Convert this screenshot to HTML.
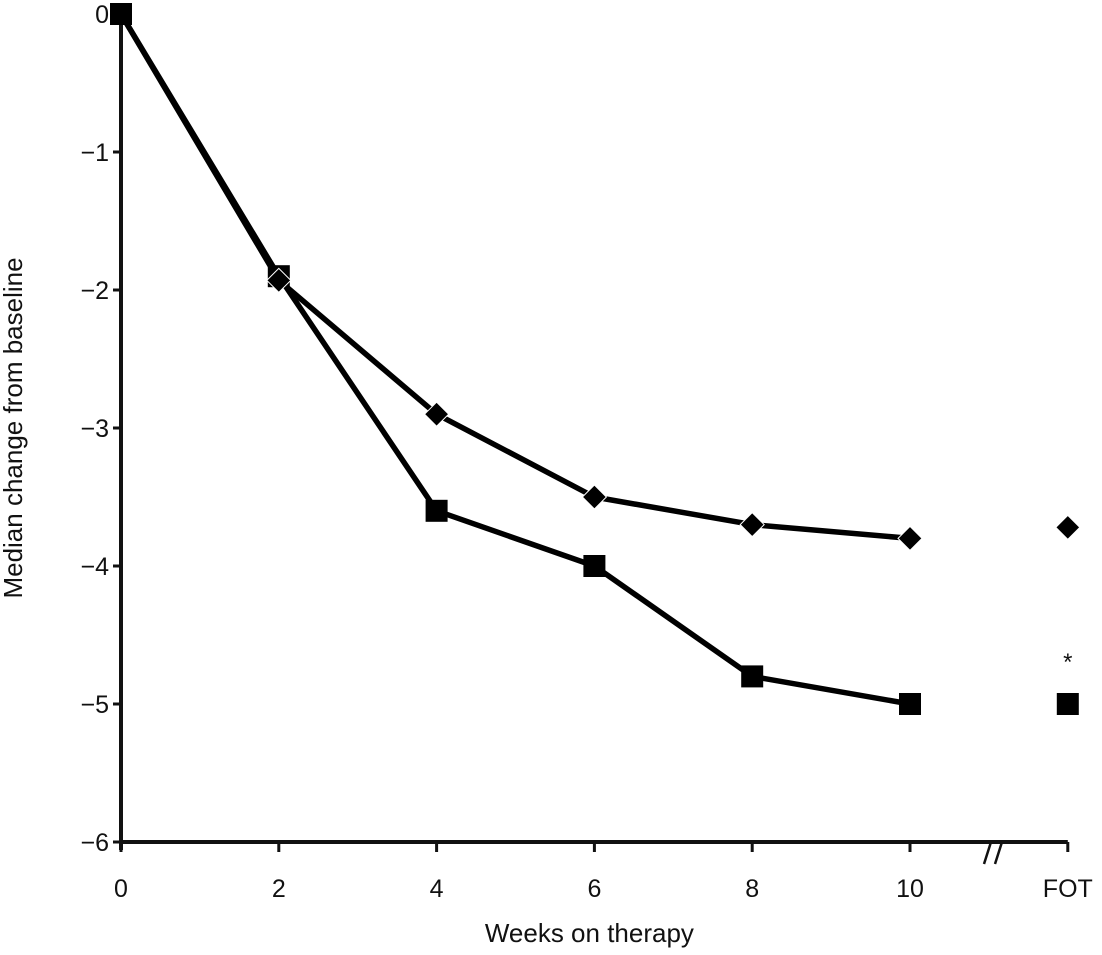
<!DOCTYPE html>
<html><head><meta charset="utf-8"><style>
body{margin:0;background:#fff;}
svg text{font-family:"Liberation Sans",sans-serif;fill:#111;}
</style></head><body>
<svg id="chart" width="1102" height="950" xmlns="http://www.w3.org/2000/svg">
<g id="axes"></g><g id="marks"></g>
</svg>
<script>
const categories=["0","2","4","6","8","10","FOT"];
const diamondValues=[0,-1.93,-2.9,-3.5,-3.7,-3.8,-3.72];
const squareValues=[0,-1.9,-3.6,-4.0,-4.8,-5.0,-5.0];
const yTicks=[0,-1,-2,-3,-4,-5,-6];
const NS="http://www.w3.org/2000/svg";
const x0=121,dx=157.8,y0=14,dy=138;
const xs=i=>x0+i*dx, ys=v=>y0-v*dy;
const axes=document.getElementById('axes'),marks=document.getElementById('marks');
function mk(tag,attrs,parent){const e=document.createElementNS(NS,tag);for(const k in attrs)e.setAttribute(k,attrs[k]);parent.appendChild(e);return e;}
let e;
e=mk('line',{x1:x0,y1:ys(0),x2:x0,y2:ys(-6)+8,stroke:'#111','stroke-width':4},axes);

e=mk('line',{x1:x0,y1:ys(-6),x2:xs(6),y2:ys(-6),stroke:'#111','stroke-width':4},axes);

yTicks.forEach(v=>{
 e=mk('line',{x1:x0-8,y1:ys(v),x2:x0,y2:ys(v),stroke:'#111','stroke-width':3},axes);
 
 e=mk('text',{x:x0-12,y:ys(v)+9,'text-anchor':'end','font-size':25},axes);
 e.textContent=v===0?'0':'\u2212'+Math.abs(v);
 
});
categories.forEach((c,i)=>{
 e=mk('line',{x1:xs(i),y1:ys(-6),x2:xs(i),y2:ys(-6)+10,stroke:'#111','stroke-width':3},axes);
 
 e=mk('text',{x:xs(i),y:897,'text-anchor':'middle','font-size':25},axes);
 e.textContent=c;
 
});
e=mk('path',{d:'M984,864 L991,842 M995,864 L1002,842',stroke:'#111','stroke-width':2.5,fill:'none'},axes);

e=mk('text',{x:x0+(xs(6)-x0)/2-5,y:942,'text-anchor':'middle','font-size':26},axes);
e.textContent='Weeks on therapy';

e=mk('text',{x:0,y:0,'text-anchor':'middle','font-size':26,transform:'translate(22,428) rotate(-90)'},axes);
e.textContent='Median change from baseline';

function line(vals,name){
 const pts=vals.slice(0,6).map((v,i)=>xs(i)+','+ys(v)).join(' ');
 const p=mk('polyline',{points:pts,fill:'none',stroke:'#000','stroke-width':5.5,'stroke-linejoin':'round'},marks);
 
}
line(squareValues,'square-series-line');
line(diamondValues,'diamond-series-line');
function square(v,i){
 const r=mk('rect',{x:xs(i)-11,y:ys(v)-11,width:22,height:22,fill:'#000'},marks);
 
}
squareValues.forEach((v,i)=>{ if(i>0) square(v,i); });
diamondValues.forEach((v,i)=>{
 if(i===0) return;
 const cx=xs(i),cy=ys(v);
 const d=mk('polygon',{points:`${cx},${cy-12} ${cx+12},${cy} ${cx},${cy+12} ${cx-12},${cy}`,fill:'#000',stroke:'#fff','stroke-width':1},marks);
 
});
square(squareValues[0],0);
e=mk('text',{x:xs(6),y:ys(-4.97)-30,'text-anchor':'middle','font-size':24},marks);
e.textContent='*';

</script>
</body></html>
